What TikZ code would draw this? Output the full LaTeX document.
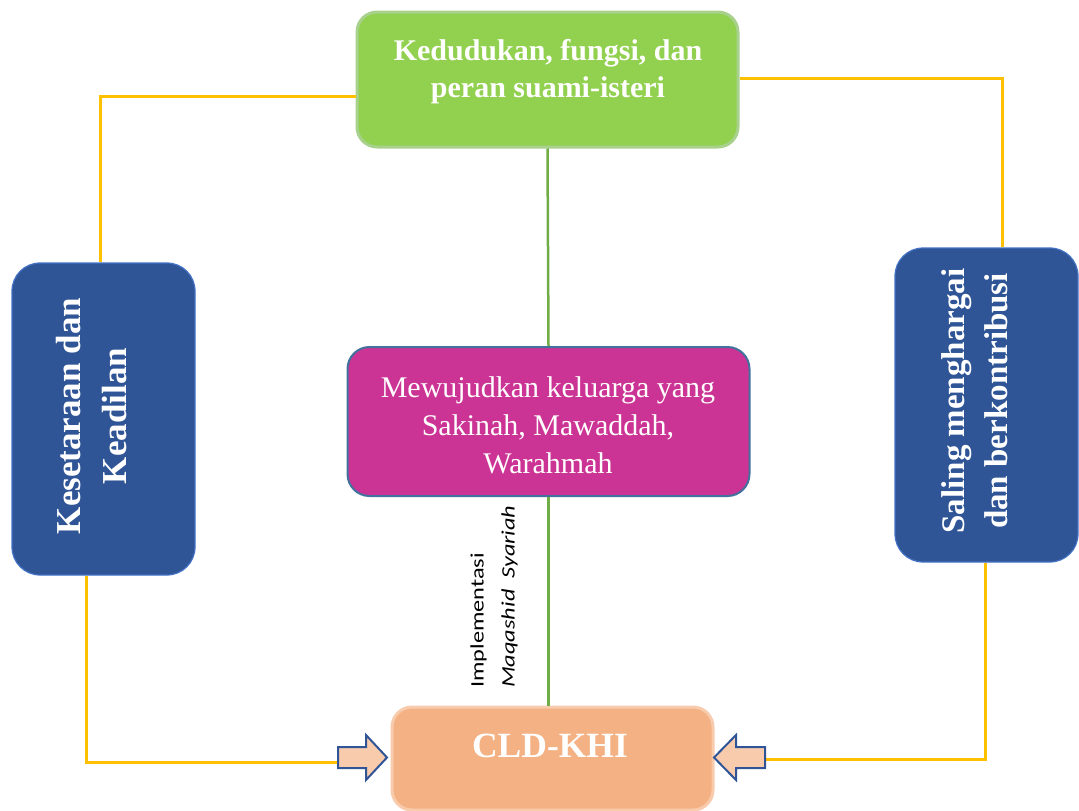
\documentclass[tikz,border=0pt]{standalone}
\usepackage{graphicx}
\usepackage{fontspec}
\setmainfont{Liberation Serif}
\newfontfamily\labelfont{Carlito}
\definecolor{greenfill}{HTML}{92D050}
\definecolor{greenborder}{HTML}{A9D18E}
\definecolor{bluefill}{HTML}{2F5597}
\definecolor{blueborder}{HTML}{4472C4}
\definecolor{magfill}{HTML}{CB3494}
\definecolor{magborder}{HTML}{41719C}
\definecolor{cldfill}{HTML}{F4B183}
\definecolor{cldborder}{HTML}{F8CBAD}
\definecolor{arrowfill}{HTML}{F8CBAD}
\definecolor{yellowline}{HTML}{FFC000}
\definecolor{greenline}{HTML}{70AD47}
\begin{document}
\begin{tikzpicture}[x=1pt,y=-1pt,
  box/.style={rectangle, inner sep=0pt},
  boldtext/.style={text=white, align=center, font=\bfseries\fontsize{#1}{1.25*#1}\selectfont},
  yconn/.style={draw=yellowline, line width=3pt},
  gconn/.style={draw=greenline, line width=2.5pt},
  blockarrow/.style={draw=bluefill, fill=arrowfill, line width=2pt, line join=miter}]
\useasboundingbox (0,0) rectangle (1079,811);

% boxes
\node[box, draw=greenborder, line width=3pt, fill=greenfill, rounded corners=20pt,
      minimum width=381pt, minimum height=135pt] (kedudukan) at (547.5,79.5) {};
\node[box, draw=blueborder, line width=1.2pt, fill=bluefill, rounded corners=28pt,
      minimum width=183pt, minimum height=312pt] (kesetaraan) at (103.5,419) {};
\node[box, draw=blueborder, line width=1.2pt, fill=bluefill, rounded corners=28pt,
      minimum width=183pt, minimum height=314pt] (saling) at (986.5,405) {};
\node[box, draw=magborder, line width=2pt, fill=magfill, rounded corners=22pt,
      minimum width=402pt, minimum height=149pt] (tujuan) at (548.5,421.5) {};
\node[box, draw=cldborder, line width=3pt, fill=cldfill, rounded corners=20pt,
      minimum width=321pt, minimum height=103pt] (cld) at (552.5,758.5) {};

% texts
\node[text=white, align=center, font=\bfseries\fontsize{30}{37}\selectfont] (kedtext) at (548,72)
  {Kedudukan, fungsi, dan\\peran suami-isteri};
\node[rotate=90, text=white, align=center, font=\bfseries\fontsize{35}{46}\selectfont] (kestext) at (92,416)
  {Kesetaraan dan\\Keadilan};
\node[rotate=90, text=white, align=center, font=\bfseries\fontsize{33}{43}\selectfont] (saltext) at (975,401)
  {Saling menghargai\\dan berkontribusi};
\node[text=white, align=center, font=\fontsize{30}{38}\selectfont] (tujtext) at (548,425)
  {Mewujudkan keluarga yang\\Sakinah, Mawaddah,\\Warahmah};
\node[text=white, font=\bfseries\fontsize{35.5}{40}\selectfont] (cldtext) at (550,746) {CLD-KHI};

% label
\node[rotate=90, anchor=west, align=left, inner sep=0pt, font=\labelfont\fontsize{19}{31}\selectfont] (impl) at (494,688)
  {\scalebox{1.28}[1]{Implementasi}\\\scalebox{1.28}[1]{\itshape Maqashid\ \ Syariah}};

% green connectors
\draw[gconn] (kedudukan.south) -- (tujuan.north);
\draw[gconn] (tujuan.south) -- (tujuan.south |- cld.north);

% arrow anchor coordinates
\coordinate (ltail) at (338,762);
\coordinate (rtail) at (765,759);

% yellow connectors
\draw[yconn] (kedudukan.west |- 0,96) -| ([xshift=-3.5pt]kesetaraan.north);
\draw[yconn] (kedudukan.east |- 0,78) -| ([xshift=15.5pt]saling.north);
\draw[yconn] ([xshift=-17.5pt]kesetaraan.south) |- (ltail);
\draw[yconn] ([xshift=-1.5pt]saling.south) |- (rtail);

% block arrows
\draw[blockarrow] (338,747) -- (366,747) -- (366,735) -- (387,757.5) -- (366,780) -- (366,768) -- (338,768) -- cycle;
\draw[blockarrow] (765,747) -- (736,747) -- (736,735) -- (714,757.5) -- (736,780) -- (736,768) -- (765,768) -- cycle;
\end{tikzpicture}
\end{document}
